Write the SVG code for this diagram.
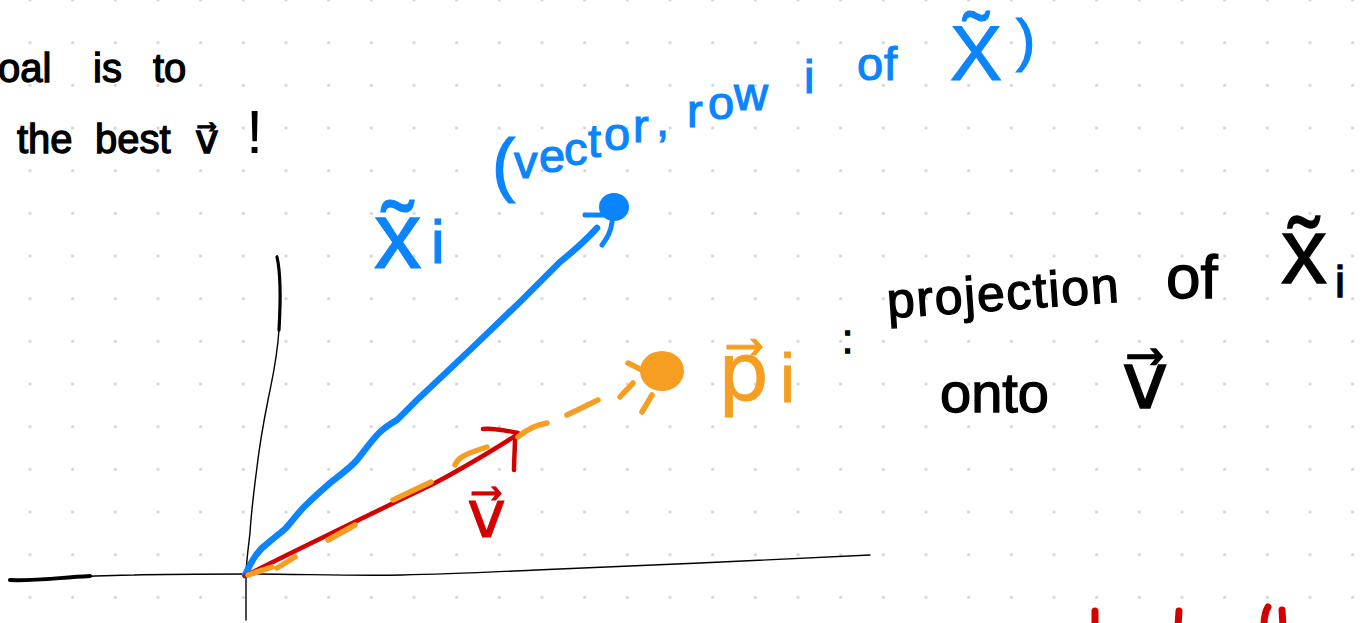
<svg xmlns="http://www.w3.org/2000/svg" width="1362" height="623" viewBox="0 0 1362 623">
<defs>
<pattern id="dots" patternUnits="userSpaceOnUse" x="8.667" y="-21.333" width="42.667" height="42.667"><circle cx="21.333" cy="21.333" r="1.6" fill="#d2d2d2"/></pattern>
<style>
text{font-family:"Liberation Sans","DejaVu Sans",sans-serif;}
.k{fill:#000;stroke:#000;stroke-width:1.3}
.b{fill:#0a84ff;stroke:#0a84ff;stroke-width:1.2}
.o{fill:#f59e22;stroke:#f59e22;stroke-width:0.8}
.r{fill:#d40000;stroke:#d40000;stroke-width:0.8}
.ln{fill:none;stroke-linecap:round;stroke-linejoin:round}
.bs{stroke:#0a84ff}
.os{stroke:#f59e22;stroke-width:5.5}
.rs{stroke:#d40000}
.ks{stroke:#000}
</style>
</defs>
<rect width="1362" height="623" fill="#fff"/>
<rect width="1362" height="623" fill="url(#dots)"/>

<g id="axes">
<path class="ln ks" stroke-width="1.4" d="M277,256 C281,275 281,305 279,330 C277,360 272,380 268,400 C263,425 259,450 257,467 C254,490 251,515 250,533 C248,550 246,565 246,575 L246,620"/>
<path class="ln ks" stroke-width="3.2" d="M277,257 C280,270 281,295 279,330"/>
<path class="ln ks" stroke-width="1.4" d="M9,580 C60,578 100,575 134,575 C170,574 210,574 248,574 C300,574 350,576 402,575 C450,574 490,572 536,570 C600,567 650,565 700,563 C760,560 820,557 870,555"/>
<path class="ln ks" stroke-width="4" d="M10,580 C35,581 55,578 90,576"/>
</g>

<g id="connectors">
<g id="x-vector">
<path class="ln bs" stroke-width="6.5" d="M245,575 C252,560 258,550 268,543 C276,536 282,532 286,528 C293,520 298,513 304,507 C313,498 322,490 330,483 C340,475 350,468 357,460 C365,450 372,440 379,433 C386,426 392,423 397,420 L417,400 L470,350 L520,302 L560,262 C575,250 586,240 597,228"/>
<path class="ln bs" stroke-width="5" d="M585,215 L604,215 M602,245 C607,238 611,232 612,222"/>
<ellipse cx="614" cy="207" rx="15" ry="14" fill="#0a84ff"/>
</g>
<g id="v-vector">
<path class="ln rs" stroke-width="4.5" d="M245,576 C300,548 400,500 433,484 C460,470 500,446 518,434"/>
<path class="ln rs" stroke-width="4.5" d="M483,429 C495,428 508,431 518,433 M515,437 C515,448 514,460 514,470"/>
</g>
<g id="projection">
<path class="ln os" d="M248,575 L272,567 M277,568 L295,557 M328,540 L355,525 M393,500 L431,482 M455,465 C458,458 462,455 487,447 M518,437 C526,430 535,425 547,423 M567,415 L598,400 M620,397 C625,391 630,387 633,383 M628,363 L642,370 M652,395 L642,412"/>
<ellipse cx="662" cy="371" rx="22" ry="20" fill="#f59e22"/>
</g>
</g>

<g id="note-goal">
<text class="k" font-size="40"><tspan x="-2" y="82">oal </tspan><tspan x="93" y="82">is </tspan><tspan x="153" y="82">to</tspan></text>
<text class="k" font-size="40"><tspan x="17" y="153">the </tspan><tspan x="95" y="153">best </tspan><tspan x="195" y="153">v⃗ </tspan><tspan x="246" y="153" font-size="62" stroke-width="0">!</tspan></text>
</g>

<g id="label-x">
<text class="b" font-size="95" x="374" y="268">x̃<tspan x="431" y="263" font-size="62">i</tspan></text>
<text class="b" font-size="47"><tspan x="492" y="188" font-size="70">(</tspan><tspan x="514" y="178">v</tspan><tspan x="539" y="172">e</tspan><tspan x="564" y="165">c</tspan><tspan x="588" y="157">t</tspan><tspan x="604" y="150">o</tspan><tspan x="633" y="142">r</tspan><tspan x="656" y="136">, </tspan><tspan x="687" y="127">r</tspan><tspan x="708" y="119">o</tspan><tspan x="734" y="110">w </tspan><tspan x="804" y="93">i </tspan><tspan x="857" y="80">o</tspan><tspan x="884" y="80">f </tspan><tspan x="950" y="80" font-size="78">X̃</tspan><tspan x="1016" y="60" font-size="58">)</tspan></text>
</g>

<g id="label-p">
<text class="o" font-size="80" x="718" y="400">p⃗<tspan x="780" y="402" font-size="68">i</tspan></text>
<text class="k" font-size="40" stroke-width="2.5" x="842" y="353">:</text>
<text class="k" font-size="50" x="888" y="318" textLength="232" lengthAdjust="spacing" transform="rotate(-4 888 318)">projection</text>
<text class="k" font-size="62" x="1166" y="298">of</text>
<text class="k" font-size="92" x="1281" y="283">x̃<tspan x="1335" y="297" font-size="45">i</tspan></text>
<text class="k" font-size="56" x="940" y="412">onto</text>
<text class="k" font-size="78" x="1122" y="408">v⃗</text>
</g>

<g id="label-v">
<text class="r" font-size="66" x="467" y="537">v⃗</text>
</g>

<g id="red-marks">
<path class="ln rs" stroke-width="7" d="M1095,611 L1095,626 M1179,611 L1178,626 M1268,607 C1265,612 1264,618 1264,626 M1282,610 L1283,626"/>
</g>
</svg>
